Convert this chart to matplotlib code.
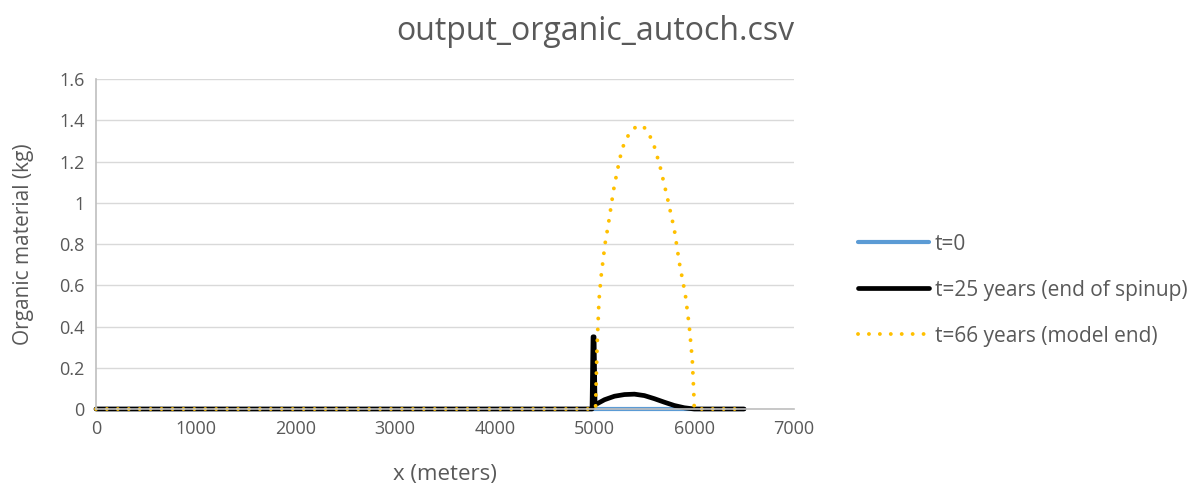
import matplotlib.pyplot as plt

# Series
x_t0 = [0, 1000, 2000, 3000, 4000, 5000, 5500, 6000, 6500]
y_t0 = [0, 0, 0, 0, 0, 0, 0, 0, 0]

x_t25 = [0, 1000, 2000, 3000, 4000, 4975, 4985, 4995, 5005, 5100, 5200, 5300,
         5400, 5500, 5600, 5700, 5800, 5900, 6000, 6500]
y_t25 = [0, 0, 0, 0, 0, 0, 0.35, 0.35, 0.02, 0.045, 0.062, 0.07,
         0.072, 0.065, 0.05, 0.033, 0.017, 0.006, 0.0, 0]

x_t66 = [0, 1000, 2000, 3000, 4000, 5010, 5025, 5045, 5065, 5105, 5140, 5190,
         5230, 5275, 5325, 5390, 5450, 5490, 5540, 5595, 5655, 5730, 5800,
         5850, 5910, 5950, 5980, 5995, 6000, 6500]
y_t66 = [0, 0, 0, 0, 0, 0, 0.3, 0.53, 0.64, 0.8, 0.9, 1.06,
         1.16, 1.26, 1.317, 1.36, 1.375, 1.37, 1.34, 1.28, 1.18, 1.025, 0.87,
         0.71, 0.556, 0.4, 0.24, 0.08, 0, 0]

labels = ["t=0", "t=25 years (end of spinup)", "t=66 years (model end)"]
title = "output_organic_autoch.csv"

plt.rcParams['font.family'] = ['Open Sans', 'DejaVu Sans']
text_color = '#595959'

fig = plt.figure(figsize=(12.01, 4.92), dpi=100)
ax = fig.add_axes([0.0799, 0.1687, 0.5812, 0.6707])

ax.plot(x_t0, y_t0, color='#5b9bd5', lw=3.0, label=labels[0],
        solid_capstyle='round', clip_on=False)
ax.plot(x_t25, y_t25, color='black', lw=3.4, label=labels[1],
        solid_capstyle='round', solid_joinstyle='round', clip_on=False)
ax.plot(x_t66, y_t66, color='#ffc000', lw=2.8, label=labels[2],
        linestyle=(0, (0.01, 2.8)), dash_capstyle='round', clip_on=False)

ax.set_xlim(0, 7000)
ax.set_ylim(0, 1.6)
ax.set_xticks(range(0, 7001, 1000))
ax.set_yticks([0, 0.2, 0.4, 0.6, 0.8, 1, 1.2, 1.4, 1.6])
ax.set_yticklabels(['0', '0.2', '0.4', '0.6', '0.8', '1', '1.2', '1.4', '1.6'])
ax.grid(axis='y', color='#d9d9d9', lw=1)
ax.set_axisbelow(True)
for s in ['top', 'right']:
    ax.spines[s].set_visible(False)
for s in ['left', 'bottom']:
    ax.spines[s].set_color('#bfbfbf')
    ax.spines[s].set_linewidth(1.2)
ax.tick_params(length=0, labelsize=13, colors=text_color, pad=8)

ax.set_xlabel('x (meters)', fontsize=16, color=text_color, labelpad=19)
ax.set_ylabel('Organic material (kg)', fontsize=15, color=text_color, labelpad=18)
fig.suptitle(title, fontsize=23, color=text_color, x=0.496, y=0.97)

leg = ax.legend(loc='center left', bbox_to_anchor=(1.092, 0.36), frameon=False,
                fontsize=15, handlelength=3.4, handletextpad=0.27, labelspacing=1.2,
                borderpad=0, borderaxespad=0, labelcolor=text_color)

plt.savefig('out.png', dpi=100)
